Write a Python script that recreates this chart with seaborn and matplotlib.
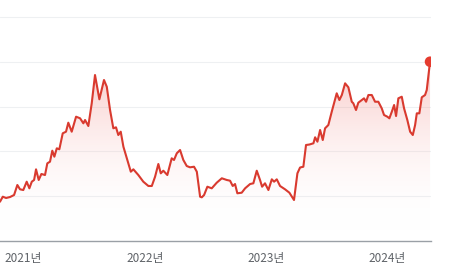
import numpy as np
import pandas as pd
import matplotlib
matplotlib.use("Agg")
import matplotlib.pyplot as plt
import seaborn as sns
from matplotlib.colors import LinearSegmentedColormap

# ---- data (decimal year, price in thousands) ----
years = [2020.806, 2020.829, 2020.856, 2020.889, 2020.922, 2020.949, 2020.971, 2020.998,
         2021.026, 2021.048, 2021.068, 2021.087, 2021.103, 2021.125, 2021.147, 2021.177,
         2021.196, 2021.218, 2021.237, 2021.254, 2021.274, 2021.295, 2021.323, 2021.350,
         2021.369, 2021.397, 2021.433, 2021.466, 2021.493, 2021.507, 2021.534, 2021.562,
         2021.589, 2021.625, 2021.663, 2021.686, 2021.713, 2021.740, 2021.762, 2021.781,
         2021.801, 2021.823, 2021.851, 2021.884, 2021.905, 2021.946, 2021.987, 2022.029,
         2022.057, 2022.084, 2022.111, 2022.131, 2022.152, 2022.185, 2022.221, 2022.240,
         2022.263, 2022.290, 2022.317, 2022.345, 2022.372, 2022.405, 2022.428, 2022.455,
         2022.469, 2022.488, 2022.515, 2022.551, 2022.592, 2022.634, 2022.675, 2022.702,
         2022.724, 2022.743, 2022.762, 2022.798, 2022.826, 2022.867, 2022.894, 2022.922,
         2022.949, 2022.966, 2022.990, 2023.018, 2023.046, 2023.065, 2023.087, 2023.114,
         2023.155, 2023.191, 2023.229, 2023.257, 2023.279, 2023.306, 2023.328, 2023.356,
         2023.389, 2023.403, 2023.422, 2023.444, 2023.466, 2023.485, 2023.512, 2023.540,
         2023.581, 2023.603, 2023.623, 2023.650, 2023.677, 2023.705, 2023.718, 2023.740,
         2023.759, 2023.787, 2023.806, 2023.823, 2023.842, 2023.870, 2023.897, 2023.924,
         2023.952, 2023.971, 2023.998, 2024.015, 2024.035, 2024.054, 2024.070, 2024.089,
         2024.117, 2024.136, 2024.163, 2024.186, 2024.208, 2024.227, 2024.241, 2024.262,
         2024.282, 2024.309, 2024.323, 2024.350]
prices = [8.77, 9.89, 9.60, 9.82, 10.27, 12.50, 11.54, 11.38,
          13.24, 11.76, 13.24, 13.62, 16.00, 13.62, 14.96, 14.73,
          17.34, 17.70, 20.16, 18.82, 20.69, 20.47, 24.04, 24.40,
          26.41, 24.40, 27.75, 27.39, 26.27, 27.01, 25.67, 30.74,
          37.05, 31.63, 35.94, 34.44, 29.24, 25.16, 25.38, 23.66,
          24.40, 21.05, 18.46, 15.47, 16.00, 14.73, 13.24, 12.28,
          12.28, 14.35, 17.19, 15.11, 15.69, 14.73, 18.46, 18.08,
          19.58, 20.31, 18.08, 16.74, 16.45, 16.58, 15.47, 9.89,
          9.75, 10.27, 12.12, 11.76, 13.01, 14.00, 13.62, 13.46,
          12.28, 12.72, 10.65, 10.78, 11.76, 12.72, 12.88, 15.69,
          13.62, 12.12, 12.88, 11.38, 13.77, 13.24, 13.77, 12.28,
          11.54, 10.78, 9.15, 15.11, 16.41, 16.58, 21.43, 21.54,
          21.81, 23.15, 22.17, 24.78, 22.54, 25.16, 25.89, 28.86,
          32.97, 31.47, 32.59, 35.20, 34.31, 31.09, 30.74, 29.24,
          30.87, 31.47, 31.85, 31.09, 32.59, 32.59, 31.09, 31.09,
          29.62, 28.13, 27.75, 27.39, 28.86, 30.36, 27.90, 31.85,
          32.21, 29.62, 27.01, 24.40, 23.66, 25.89, 28.50, 28.50,
          32.08, 32.59, 33.71, 40.02]
tick_years = [2021, 2022, 2023, 2024]
tick_labels = ["2021년", "2022년", "2023년", "2024년"]
grid_values = [10, 20, 30, 40, 50]

df = pd.DataFrame({"year": years, "price": prices})

sns.set_style("white")
plt.rcParams["font.family"] = ["Noto Sans CJK KR", "DejaVu Sans"]

LINE = "#d93a2f"
fig = plt.figure(figsize=(4.5, 2.69), dpi=100)
ax = fig.add_axes([0, (269 - 241) / 269, 431 / 450, 241 / 269])

xmin, xmax = 2020.806, 2024.358
ymin, ymax = 0, 53.8
ax.set_xlim(xmin, xmax)
ax.set_ylim(ymin, ymax)

for g in grid_values:
    ax.axhline(g, color="#eef0f2", lw=0.8, zorder=0)

# gradient fill under the line
fill = ax.fill_between(df["year"], df["price"], 0, color="none", lw=0)
cmap = LinearSegmentedColormap.from_list("g", [(1, 1, 1, 0), (0.93, 0.36, 0.34, 0.34)])
grad = np.linspace(0, 1, 256).reshape(-1, 1)
top = max(prices)
img = ax.imshow(grad, extent=[xmin, xmax, 2, top], origin="lower", aspect="auto",
                cmap=cmap, zorder=1)
img.set_clip_path(fill.get_paths()[0], transform=ax.transData)

sns.lineplot(data=df, x="year", y="price", ax=ax, color=LINE, lw=1.5, zorder=3)
sns.scatterplot(x=[years[-1]], y=[prices[-1]], ax=ax, color="#e53b2f", s=58,
                edgecolor="none", zorder=4)

ax.set_xlabel("")
ax.set_ylabel("")
ax.set_yticks([])
ax.set_xticks(tick_years)
ax.set_xticklabels(tick_labels, fontsize=8.5, color="#5f6368")
ax.tick_params(axis="x", direction="out", length=4, width=1, color="#80868b", pad=4)
for s in ["top", "right", "left"]:
    ax.spines[s].set_visible(False)
ax.spines["bottom"].set_color("#9aa0a6")
ax.spines["bottom"].set_linewidth(1)
ax.set_facecolor("none")

fig.savefig("out.png", dpi=100)
